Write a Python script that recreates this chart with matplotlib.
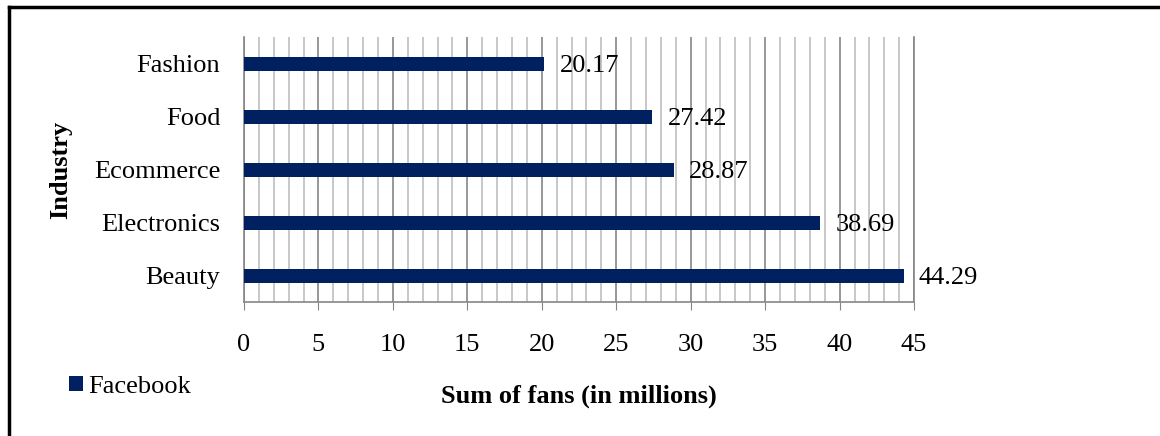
import matplotlib.pyplot as plt
from matplotlib.lines import Line2D
import numpy as np

plt.rcParams['font.family'] = ['Liberation Serif', 'DejaVu Serif']

industries = ['Beauty', 'Electronics', 'Ecommerce', 'Food', 'Fashion']
fans = [44.29, 38.69, 28.87, 27.42, 20.17]
series_name = 'Facebook'
bar_color = '#002060'

fs = 19

fig = plt.figure(figsize=(11.6, 4.36), dpi=100)
ax = fig.add_axes([0.2103, 0.307, 0.5777, 0.608])

y = np.arange(len(industries))
ax.barh(y, fans, height=0.265, color=bar_color, label=series_name, zorder=3)

# value labels just right of each bar
for yi, v in zip(y, fans):
    ax.annotate(f'{v:.2f}', xy=(v, yi), xytext=(11, -2), textcoords='offset points',
                va='center', ha='left', fontsize=fs, zorder=4)

ax.set_xlim(0, 45)
ax.set_ylim(-0.5, len(industries) - 0.5)
ax.set_xticks(np.arange(0, 46, 5))
ax.set_xticks(np.arange(0, 46, 1), minor=True)
ax.set_yticks(y)
ax.set_yticklabels(industries)

# vertical gridlines: light every unit, darker every 5
ax.grid(axis='x', which='minor', color='#bfbfbf', linewidth=1.2, zorder=0)
ax.grid(axis='x', which='major', color='#868686', linewidth=1.2, zorder=1)
ax.grid(axis='y', visible=False)

ax.spines['top'].set_visible(False)
for s in ['left', 'bottom', 'right']:
    ax.spines[s].set_color('#868686')
    ax.spines[s].set_linewidth(1.2)

ax.tick_params(axis='x', which='major', direction='out', length=5.8, color='#868686',
               labelsize=fs, pad=17)
ax.tick_params(axis='x', which='minor', length=0)
ax.tick_params(axis='y', length=0, labelsize=fs, pad=17)

ax.set_xlabel('Sum of fans (in millions)', fontsize=fs, fontweight='bold', labelpad=21)
ax.set_ylabel('Industry', fontsize=fs, fontweight='bold', labelpad=16)

ax.legend(loc='center left', bbox_to_anchor=(69 / 1160, 1 - 387 / 436),
          bbox_transform=fig.transFigure, frameon=False, fontsize=fs,
          handlelength=0.53, handleheight=0.53, handletextpad=0.19,
          borderpad=0, borderaxespad=0)

# outer frame (top and left only)
fig.add_artist(Line2D([0.0078, 1.0], [1 - 7.5 / 436] * 2, color='black', linewidth=2.5,
                      transform=fig.transFigure))
fig.add_artist(Line2D([9 / 1160] * 2, [0, 1 - 7.5 / 436], color='black', linewidth=2.5,
                      transform=fig.transFigure))

plt.savefig('out.png', dpi=100)
